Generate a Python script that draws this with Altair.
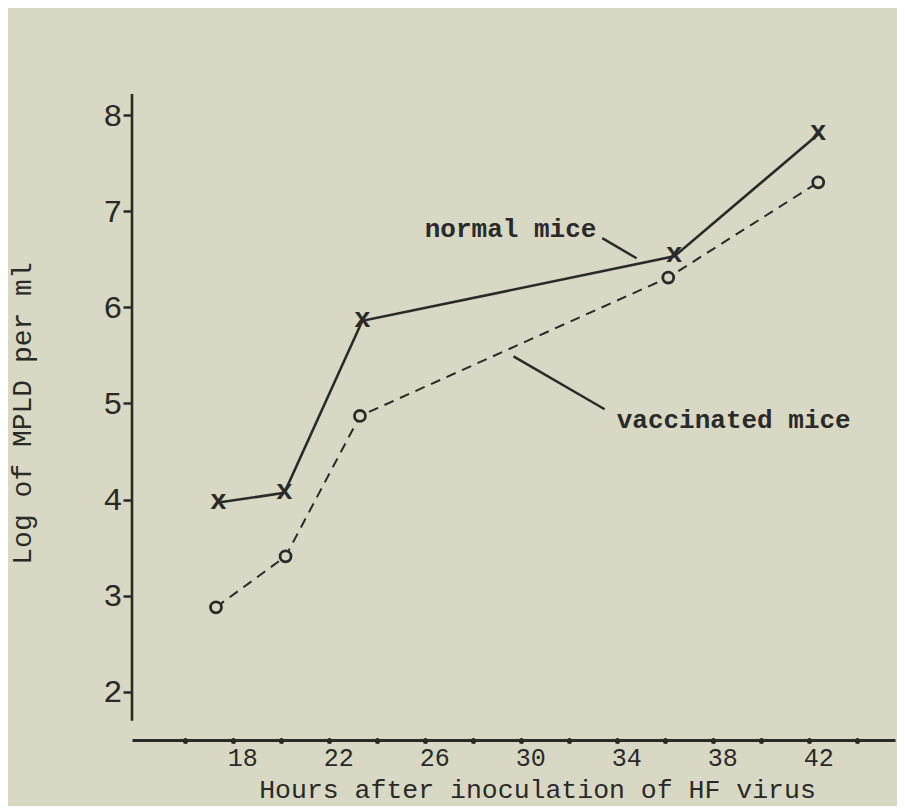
import altair as alt
import pandas as pd

# ---- data ----
hours_normal = [17, 19.75, 23, 36, 42]
log_normal = [3.97, 4.07, 5.86, 6.53, 7.80]
hours_vacc = [16.9, 19.8, 22.9, 35.75, 42]
log_vacc = [2.88, 3.41, 4.87, 6.31, 7.30]

x_ticks = [16, 18, 20, 22, 24, 26, 28, 30, 32, 34, 36, 38, 40, 42, 44]
x_labels = [18, 22, 26, 30, 34, 38, 42]
y_ticks = [2, 3, 4, 5, 6, 7, 8]
x_domain = [13.4, 45.2]
y_domain = [1.5, 8.25]
y_axis_span = [1.7, 8.22]

annot_text = ["normal mice", "vaccinated mice"]
annot_hour = [25.6, 33.6]
annot_log = [6.73, 4.74]
leader_h1 = [33.0, 29.3]
leader_l1 = [6.72, 5.49]
leader_h2 = [34.43, 33.1]
leader_l2 = [6.51, 4.94]

INK = "#2a2a28"
BG = "#d8d8c5"
FONT = "Liberation Mono"

normal = pd.DataFrame({"hour": hours_normal, "log": log_normal})
vacc = pd.DataFrame({"hour": hours_vacc, "log": log_vacc})
annots = pd.DataFrame({"hour": annot_hour, "log": annot_log, "text": annot_text})
leaders = pd.DataFrame({"hour": leader_h1, "log": leader_l1, "hour2": leader_h2, "log2": leader_l2})
yspan = pd.DataFrame({"log": [y_axis_span[0]], "log2": [y_axis_span[1]]})

label_expr = "indexof(" + str(x_labels) + ", datum.value) >= 0 ? datum.label : ''"

x_axis = alt.Axis(
    values=x_ticks, labelExpr=label_expr, grid=False,
    domainColor=INK, domainWidth=3, tickColor=INK, tickSize=1, tickWidth=5,
    tickCap="round", tickOffset=-9, labelOffset=9,
    labelFont=FONT, labelFontSize=25, labelColor=INK, labelPadding=4,
    title="Hours after inoculation of HF virus", titleFont=FONT, titleFontSize=26.5,
    titleFontWeight="normal", titleColor=INK, titleX=405, titleY=49,
    titleAlign="center", titleBaseline="middle",
)
y_axis = alt.Axis(
    values=y_ticks, grid=False, domain=False,
    tickColor=INK, tickSize=9, tickWidth=2.5,
    labelFont=FONT, labelFontSize=32, labelColor=INK, labelPadding=1,
    title="Log of MPLD per ml", titleFont=FONT, titleFontSize=28,
    titleFontWeight="normal", titleColor=INK, titleX=-110, titleY=322,
    titleAngle=270, titleAlign="center", titleBaseline="middle",
)

xs = alt.Scale(domain=x_domain, nice=False, zero=False)
ys = alt.Scale(domain=y_domain, nice=False, zero=False)

X = alt.X("hour:Q", scale=xs, axis=x_axis)
Y = alt.Y("log:Q", scale=ys, axis=y_axis)

normal_line = alt.Chart(normal).mark_line(color=INK, strokeWidth=2.6).encode(x=X, y=Y)
normal_marks = alt.Chart(normal).mark_text(
    text="x", font=FONT, fontSize=28, fontWeight="bold", color=INK, baseline="middle", dy=-2
).encode(x=X, y=Y)

vacc_line = alt.Chart(vacc).mark_line(color=INK, strokeWidth=2, strokeDash=[10, 7]).encode(x=X, y=Y)
vacc_marks = alt.Chart(vacc).mark_point(
    shape="circle", size=120, filled=True, fill=BG, stroke=INK, strokeWidth=2.8, opacity=1
).encode(x=X, y=Y)

yrule = alt.Chart(yspan).mark_rule(color=INK, strokeWidth=2.6).encode(
    x=alt.value(0), y=Y, y2="log2:Q"
)

leader_rules = alt.Chart(leaders).mark_rule(color=INK, strokeWidth=2.4).encode(
    x=X, y=Y, x2="hour2:Q", y2="log2:Q"
)

annot_marks = alt.Chart(annots).mark_text(
    font=FONT, fontSize=26, fontWeight="bold", color=INK, align="left", baseline="alphabetic"
).encode(x=X, y=Y, text="text:N")

chart = alt.layer(
    yrule, vacc_line, normal_line, leader_rules, vacc_marks, normal_marks, annot_marks
).properties(
    width=763, height=649,
    background=BG,
    padding={"left": 124, "top": 83, "right": 2, "bottom": 66},
    autosize=alt.AutoSizeParams(type="none"),
).configure_view(stroke=None)

chart.save("out.html", embed_options={"renderer": "svg", "actions": False})
